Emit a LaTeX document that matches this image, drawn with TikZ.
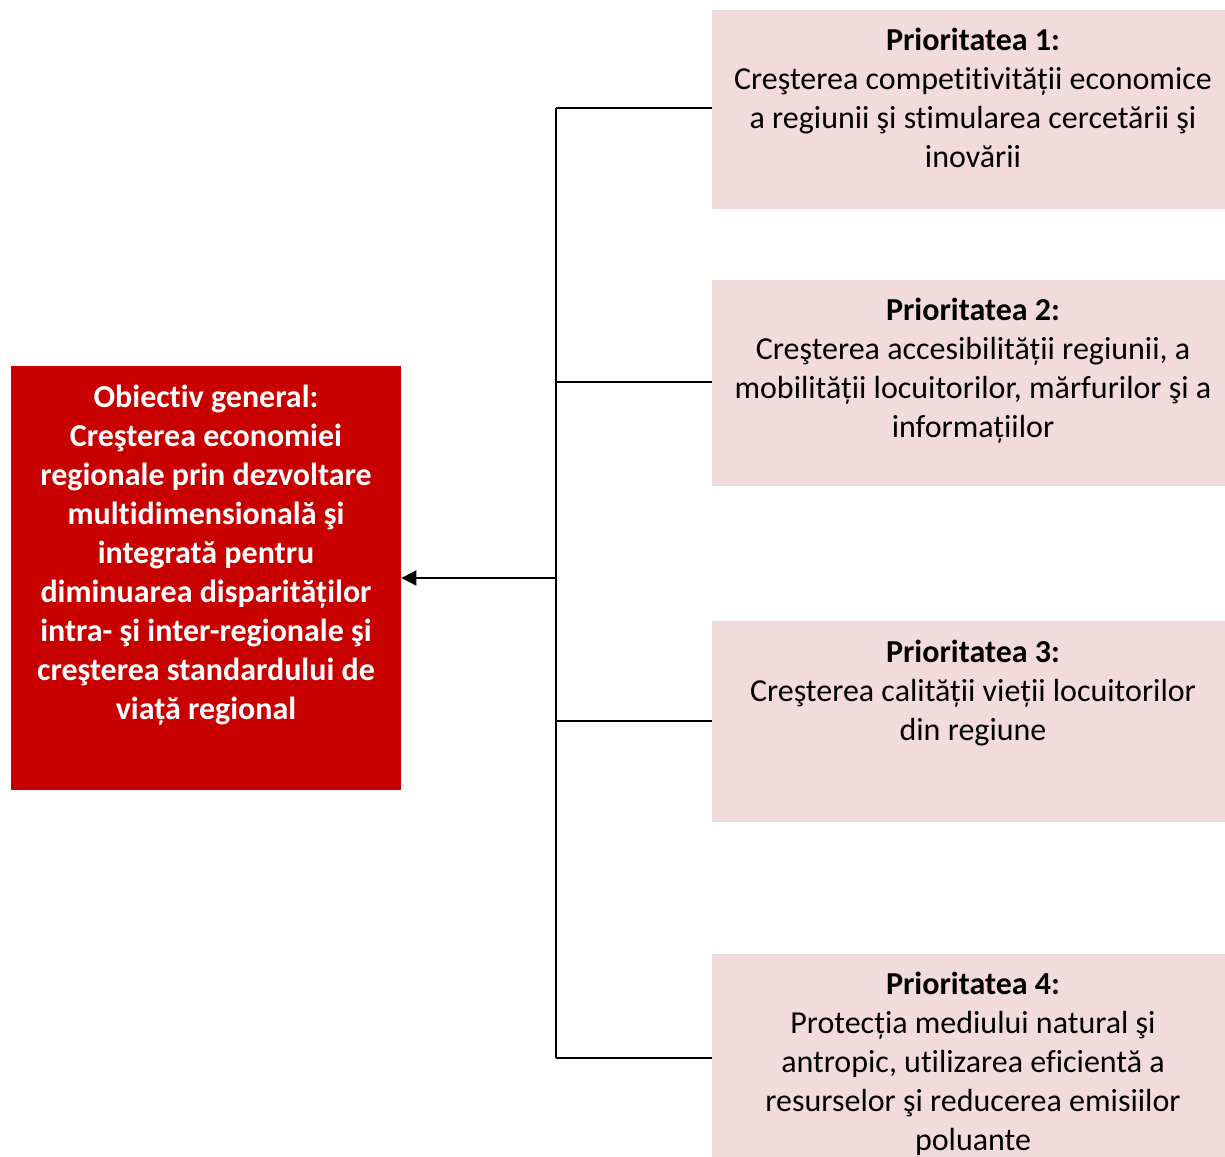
\documentclass[tikz,border=0pt]{standalone}
\usepackage{fontspec}
\setmainfont{Carlito}[Ligatures=NoCommon]
\usetikzlibrary{arrows.meta}
\definecolor{objred}{RGB}{200,0,0}
\definecolor{prpink}{RGB}{242,220,219}
\newcommand{\fl}{\rule{0pt}{30pt}}
\tikzset{
  pbox/.style={fill=prpink, draw=none, minimum width=522pt, inner sep=0pt, anchor=north west},
  ptext/.style={align=center, inner sep=0pt, anchor=north, font=\fontsize{32}{39}\selectfont, text=black},
  otext/.style={align=center, inner sep=0pt, anchor=north, font=\fontsize{32}{39}\selectfont\bfseries, text=white},
  conn/.style={line width=1.5pt, draw=black},
}
\begin{document}
\begin{tikzpicture}[x=1pt,y=-1pt]
\useasboundingbox (0,0) rectangle (1225,1156);
% boxes
\node[fill=objred, draw=none, minimum width=390pt, minimum height=424pt, inner sep=0pt, anchor=north west] (obox) at (11,366) {};
\node[pbox, minimum height=199pt] (p1box) at (712,10) {};
\node[pbox, minimum height=206pt] (p2box) at (712,280) {};
\node[pbox, minimum height=201pt] (p3box) at (712,621) {};
\node[pbox, minimum height=208pt] (p4box) at (712,954) {};
% texts
\node[otext] (otxt) at (206,377) {\fl Obiectiv general:\\Creşterea economiei\\regionale prin dezvoltare\\multidimensională şi\\integrată pentru\\diminuarea disparităților\\intra- şi inter-regionale şi\\creşterea standardului de\\viață regional};
\node[ptext] (p1) at (973,20) {\fl\textbf{Prioritatea 1:}\\Creşterea competitivității economice\\a regiunii şi stimularea cercetării şi\\inovării};
\node[ptext] (p2) at (973,290) {\fl\textbf{Prioritatea 2:}\\Creşterea accesibilității regiunii, a\\mobilității locuitorilor, mărfurilor şi a\\informațiilor};
\node[ptext] (p3) at (973,632) {\fl\textbf{Prioritatea 3:}\\Creşterea calității vieții locuitorilor\\din regiune};
\node[ptext] (p4) at (973,964) {\fl\textbf{Prioritatea 4:}\\Protecția mediului natural şi\\antropic, utilizarea eficientă a\\resurselor şi reducerea emisiilor\\poluante};
% connectors
\coordinate (jtop) at (556,108);
\coordinate (j2) at (556,382);
\coordinate (jmid) at (556,578);
\coordinate (j3) at (556,721);
\coordinate (jbot) at (556,1058);
\draw[conn] (jtop) -- (jbot);
\draw[conn] (jtop) -- (p1box.west |- jtop);
\draw[conn] (j2) -- (p2box.west |- j2);
\draw[conn] (j3) -- (p3box.west |- j3);
\draw[conn] (jbot) -- (p4box.west |- jbot);
\draw[line width=2pt, -{Triangle[length=15pt,width=15pt]}] (jmid) -- (obox.east |- jmid);
\end{tikzpicture}
\end{document}
